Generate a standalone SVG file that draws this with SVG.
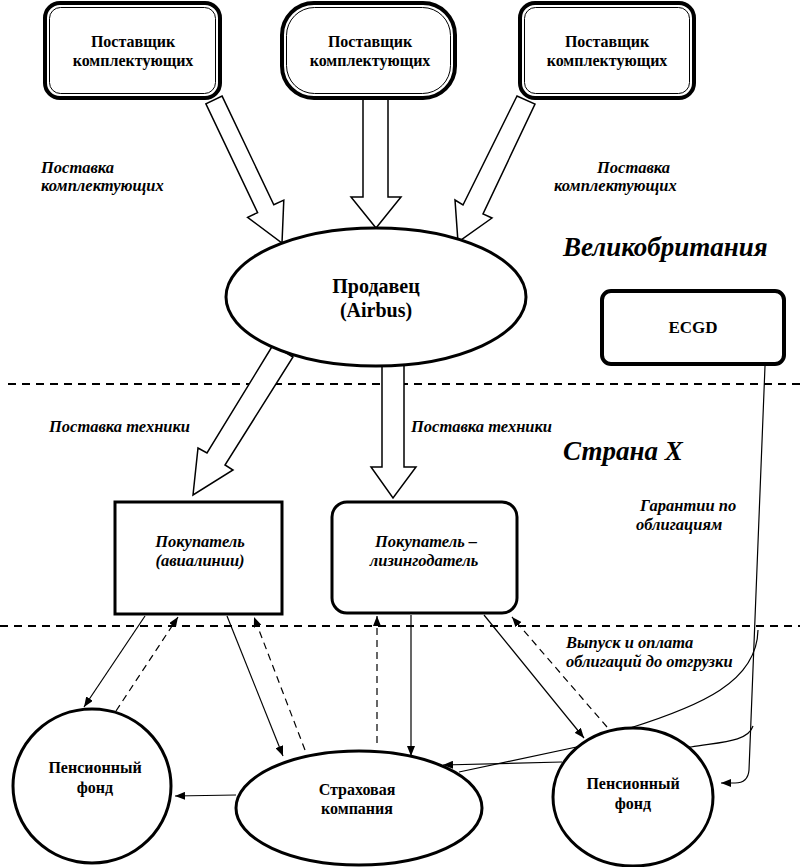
<svg xmlns="http://www.w3.org/2000/svg" width="800" height="867" viewBox="0 0 800 867">
<style>
  .t { font-family: "Liberation Serif", "Times New Roman", serif; font-weight: bold; fill: #000; }
  .c { text-anchor: middle; }
  .n15 { font-size: 16px; }
  .n16 { font-size: 20px; }
  .ec { font-size: 17px; }
  .i { font-style: italic; font-size: 16.5px; }
  .big { font-style: italic; font-size: 27px; }
  .outer { fill: #fff; stroke: #000; stroke-width: 4; }
  .inner { fill: none; stroke: #000; stroke-width: 1; }
  .thick { fill: #fff; stroke: #000; stroke-width: 3; }
  .block { fill: #fff; stroke: #000; stroke-width: 1.5; stroke-linejoin: miter; }
  .ln { fill: none; stroke: #000; stroke-width: 1.2; }
  .dash { fill: none; stroke: #000; stroke-width: 1.2; stroke-dasharray: 7 5; }
  .sep { fill: none; stroke: #000; stroke-width: 2; stroke-dasharray: 8 6; }
</style>
<defs>
  <marker id="ah" markerUnits="userSpaceOnUse" markerWidth="10" markerHeight="8" refX="10" refY="4" orient="auto">
    <path d="M0,0 L10,4 L0,8 Z" fill="#000"/>
  </marker>
</defs>
<rect width="800" height="867" fill="#fff"/>

<!-- separators -->
<line class="sep" x1="8" y1="384" x2="800" y2="384"/>
<line class="sep" x1="0" y1="626" x2="800" y2="626"/>

<g id="connectors">
  <!-- block arrows -->
  <polygon class="block" points="205.9,103.9 257.6,212.6 247.6,217.3 282,243 283.8,200.1 273.8,204.8 222.1,96.1"/>
  <polygon class="block" points="363,98 363,197 351,197 376,228 401,197 388,197 388,98"/>
  <polygon class="block" points="517,96 463,205 455,200 458,242 492,218 483,214 535,104"/>
  <polygon class="block" points="273,345 207,453 198,448 193,495 233,470 225,465 293,357"/>
  <polygon class="block" points="382,365 382,467 371,467 393,498 416,467 404,467 404,365"/>
  <!-- thin connectors -->
  <path class="ln" d="M145,616 L84,707" marker-end="url(#ah)"/>
  <path class="dash" d="M116,711 L178,617" marker-end="url(#ah)"/>
  <path class="ln" d="M227,616 L283,756" marker-end="url(#ah)"/>
  <path class="dash" d="M305,750 L254,617" marker-end="url(#ah)"/>
  <path class="dash" d="M377,743 L377,616" marker-end="url(#ah)"/>
  <path class="ln" d="M411,615 L411,756" marker-end="url(#ah)"/>
  <path class="ln" d="M484,615 L584,738" marker-end="url(#ah)"/>
  <path class="dash" d="M607,727 L512,617" marker-end="url(#ah)"/>
  <path class="ln" d="M236,795 L175,796" marker-end="url(#ah)"/>
  <path class="ln" d="M562,762 L443,765" marker-end="url(#ah)"/>
  <!-- ECGD guarantees -->
  <path class="ln" d="M765,366 L749,770 Q748,783 735,783 L721,783" marker-end="url(#ah)"/>
  <path class="ln" d="M758,630 C757,682 700,706 630,728"/>
  <path class="ln" d="M753,726 C748,742 720,742 691,747 L600,742 L459,772"/>
</g>

<g id="supplier1">
  <rect class="outer" x="45" y="3" width="175" height="95" rx="15"/>
  <rect class="inner" x="49.5" y="7.5" width="166" height="86" rx="11"/>
  <text class="t c n15" x="133" y="47">Поставщик</text>
  <text class="t c n15" x="133" y="66">комплектующих</text>
</g>
<g id="supplier2">
  <rect class="outer" x="282" y="3" width="173" height="95" rx="32"/>
  <rect class="inner" x="286.5" y="7.5" width="164" height="86" rx="28"/>
  <text class="t c n15" x="370" y="47">Поставщик</text>
  <text class="t c n15" x="370" y="66">комплектующих</text>
</g>
<g id="supplier3">
  <rect class="outer" x="520" y="3" width="174" height="95" rx="15"/>
  <rect class="inner" x="524.5" y="7.5" width="165" height="86" rx="11"/>
  <text class="t c n15" x="607" y="47">Поставщик</text>
  <text class="t c n15" x="607" y="66">комплектующих</text>
</g>

<g id="labels">
  <text class="t i" x="41" y="173">Поставка</text>
  <text class="t i" x="41" y="191">комплектующих</text>
  <text class="t i" x="597" y="173">Поставка</text>
  <text class="t i" x="554" y="191">комплектующих</text>
  <text class="t big" x="563" y="256">Великобритания</text>
  <text class="t big" x="563" y="460">Страна X</text>
  <text class="t i" x="49" y="432">Поставка техники</text>
  <text class="t i" x="411" y="432">Поставка техники</text>
  <text class="t i" x="640" y="511">Гарантии по</text>
  <text class="t i" x="636" y="530">облигациям</text>
  <text class="t i" x="566" y="648">Выпуск и оплата</text>
  <text class="t i" x="566" y="667">облигаций до отгрузки</text>
</g>

<g id="seller">
  <ellipse class="thick" cx="376" cy="297" rx="150" ry="69"/>
  <text class="t c n16" x="376" y="293">Продавец</text>
  <text class="t c n16" x="376" y="317">(Airbus)</text>
</g>

<g id="ecgd">
  <rect class="outer" x="602" y="291" width="182" height="73" rx="9"/>
  <text class="t c ec" x="693" y="333">ECGD</text>
</g>

<g id="buyer-airline">
  <rect class="thick" x="115" y="502" width="167" height="112"/>
  <text class="t c i" x="200" y="547">Покупатель</text>
  <text class="t c i" x="200" y="566">(авиалинии)</text>
</g>

<g id="buyer-lessor">
  <rect class="thick" x="332" y="502" width="185" height="111" rx="15"/>
  <text class="t c i" x="426" y="547">Покупатель –</text>
  <text class="t c i" x="424" y="566">лизингодатель</text>
</g>

<g id="pension-left">
  <ellipse class="thick" cx="92" cy="786" rx="79" ry="77"/>
  <text class="t c n15" x="95" y="773">Пенсионный</text>
  <text class="t c n15" x="95" y="793">фонд</text>
</g>

<g id="insurance">
  <ellipse class="thick" cx="359" cy="808" rx="123" ry="57"/>
  <text class="t c n15" x="357" y="795">Страховая</text>
  <text class="t c n15" x="357" y="814">компания</text>
</g>

<g id="pension-right">
  <ellipse class="thick" cx="633" cy="797" rx="80" ry="69"/>
  <text class="t c n15" x="633" y="789">Пенсионный</text>
  <text class="t c n15" x="633" y="809">фонд</text>
</g>
</svg>
